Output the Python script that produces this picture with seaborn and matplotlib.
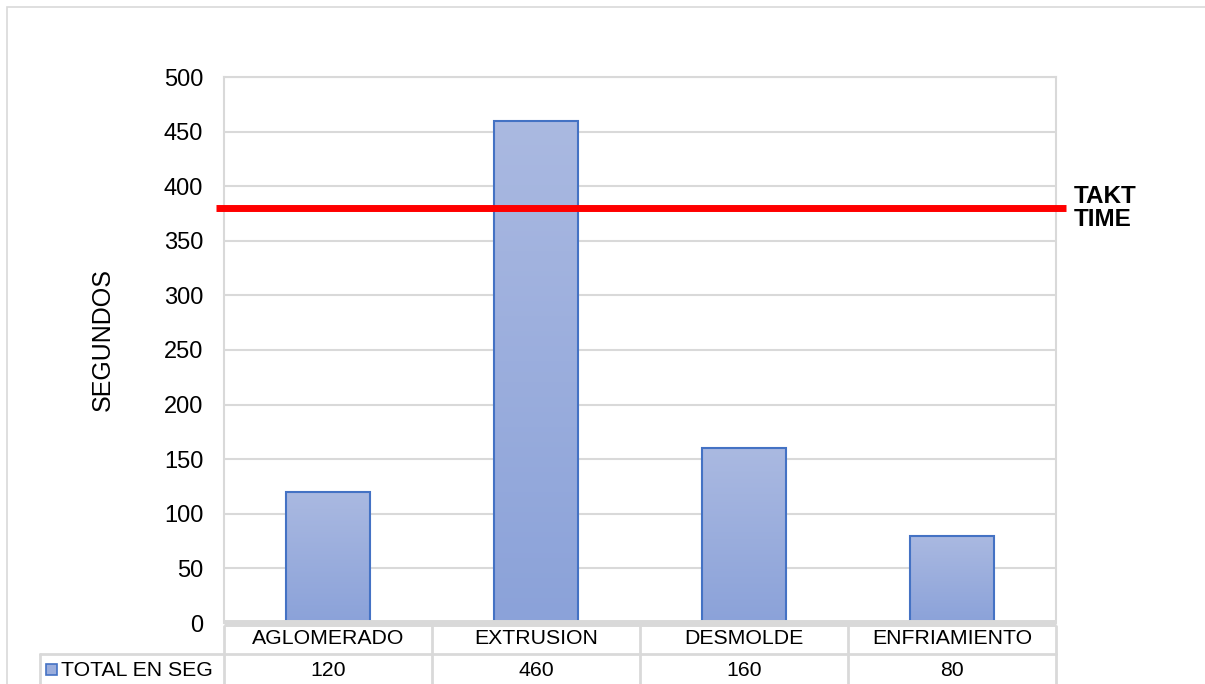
import numpy as np
import pandas as pd
import matplotlib.pyplot as plt
import seaborn as sns
from matplotlib.patches import Rectangle
from matplotlib.colors import LinearSegmentedColormap

stages = ["AGLOMERADO", "EXTRUSION", "DESMOLDE", "ENFRIAMIENTO"]
seconds = [120, 460, 160, 80]
takt_time = 380
series_name = "TOTAL EN SEG"

df = pd.DataFrame({"stage": stages, "seconds": seconds})

sns.set_style("white")
plt.rcParams["font.family"] = ["Liberation Sans", "DejaVu Sans"]
plt.rcParams["text.color"] = "black"
plt.rcParams["axes.labelcolor"] = "black"
plt.rcParams["ytick.color"] = "black"

fig = plt.figure(figsize=(12.05, 6.84), dpi=100)
ax = fig.add_axes([224 / 1205, 61 / 684, 832 / 1205, 546 / 684])

grid_c = "#D9D9D9"
edge_c = "#4472C4"

sns.barplot(data=df, x="stage", y="seconds", color="#9AADDC",
            edgecolor=edge_c, linewidth=1.5, width=0.4, ax=ax, zorder=3)

# gradient fill on each bar
grad = np.linspace(0, 1, 100).reshape(-1, 1)
cmap = LinearSegmentedColormap.from_list("g", ["#8BA2D9", "#AAB9E1"])
for p in ax.patches:
    x0, y0 = p.get_x(), p.get_y()
    w, h = p.get_width(), p.get_height()
    im = ax.imshow(grad, cmap=cmap, origin="lower", aspect="auto",
                   extent=[x0, x0 + w, y0, y0 + h], zorder=3.5)
    im.set_clip_path(p)
    p.set_facecolor("none")
    p.set_zorder(4)

ax.set_xlim(-0.5, 3.5)
ax.set_ylim(0, 500)
ax.set_yticks(range(0, 501, 50))
ax.tick_params(axis="y", labelsize=17, length=0, pad=15)
ax.set_xticks([])
ax.set_xlabel("")
ax.set_ylabel("SEGUNDOS", fontsize=18)
ax.yaxis.set_label_coords(-0.131, 0.52)
ax.yaxis.grid(True, color=grid_c, linewidth=1.5, zorder=0)
ax.set_axisbelow(True)
for s in ["left", "right", "top"]:
    ax.spines[s].set_color(grid_c)
    ax.spines[s].set_linewidth(1.5)
ax.spines["bottom"].set_visible(False)
ax.plot([-0.5, 3.5], [0, 0], color=grid_c, linewidth=5, zorder=5,
        clip_on=False, solid_capstyle="butt")

# takt time line
ax.plot([-0.54, 3.55], [takt_time, takt_time], color="#FF0000",
        linewidth=5, zorder=6, clip_on=False, solid_capstyle="butt")
ax.text(3.585, takt_time, "TAKT\nTIME", fontsize=17.5, fontweight="bold",
        va="center", ha="left", linespacing=1.0)

# data table below the plot
def fy(py):
    return 1 - py / 684

def fx(px):
    return px / 1205

lines = []
for px in [224, 432, 640, 848, 1056]:
    lines.append(([fx(px), fx(px)], [fy(626), fy(684)]))
lines.append(([fx(40), fx(1056)], [fy(654), fy(654)]))
lines.append(([fx(40), fx(40)], [fy(654), fy(684)]))
for xs, ys in lines:
    fig.add_artist(plt.Line2D(xs, ys, color=grid_c, linewidth=2))

for i, (st, v) in enumerate(zip(stages, seconds)):
    cx = fx(328 + 208 * i)
    fig.text(cx, fy(639), st, ha="center", va="center", fontsize=15.3)
    fig.text(cx, fy(670), str(v), ha="center", va="center", fontsize=15.3)

fig.add_artist(Rectangle((fx(46), fy(675)), fx(11), 11 / 684,
                         facecolor="#9AADDC", edgecolor=edge_c, linewidth=1.2))
fig.text(fx(61), fy(670), series_name, ha="left", va="center", fontsize=15.3)

# outer frame
fig.add_artist(Rectangle((fx(7), fy(690)), fx(1210), 683 / 684,
                         facecolor="none", edgecolor=grid_c, linewidth=1.2))

fig.savefig("out.png", dpi=100)
